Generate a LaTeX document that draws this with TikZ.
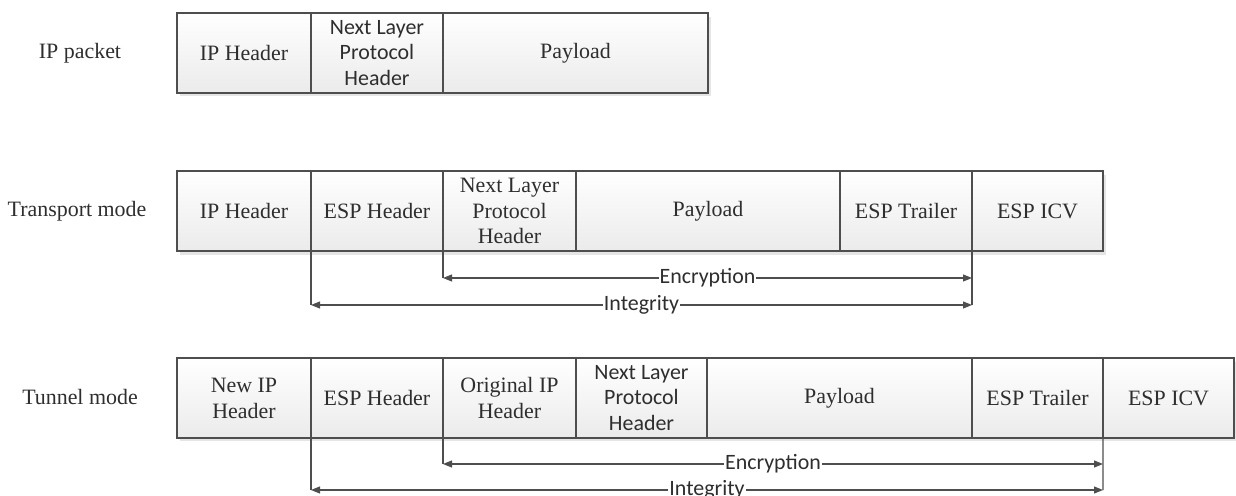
\documentclass[tikz,border=0pt]{standalone}
\usepackage{fontspec}
\setmainfont{Liberation Serif}
\newfontfamily\calfont{Carlito}
\usetikzlibrary{arrows.meta}
\definecolor{edge}{HTML}{4E4E4E}
\definecolor{ink}{HTML}{2E2E2E}
\definecolor{cellbot}{HTML}{EBEBEB}
\tikzset{
  cell/.style={draw=edge, line width=1.3bp, top color=white, bottom color=cellbot,
    inner sep=0pt, outer sep=0pt, align=center, text=ink,
    font=\fontsize{22}{26}\selectfont, minimum height=80bp},
  calcell/.style={cell, font=\calfont\fontsize{22}{26}\selectfont},
  rowlabel/.style={text=ink, font=\fontsize{22}{26}\selectfont},
  conn/.style={draw=edge, line width=1.1bp},
  span/.style={conn, {Triangle[length=9bp,width=7bp]}-{Triangle[length=9bp,width=7bp]}},
  spanlabel/.style={fill=white, inner sep=1bp, text=ink, font=\calfont\fontsize{22}{24}\selectfont},
  shadowbox/.style={fill=black!10, draw=none},
}
\newcommand\mkcell[6][cell]{%
  \node[#1, minimum width={(#4-#3)*1bp}] (#2) at ({(#3+#4)/2},{#5+40}) {#6};}
\begin{document}
\begin{tikzpicture}[x=1bp,y=-1bp]
\useasboundingbox (0,0) rectangle (1236,496);
% shadows
\fill[shadowbox] (180,17) rectangle (711,96);
\fill[shadowbox] (180,175) rectangle (1106,255);
\fill[shadowbox] (180,362) rectangle (1237,441);
% IP packet
\node[rowlabel] (lp) at (80,53) {IP packet};
\mkcell{p1}{177}{311}{13}{IP Header}
\mkcell[calcell]{p2}{311}{443}{13}{Next Layer\\Protocol\\Header}
\mkcell{p3}{443}{708}{13}{Payload}
% Transport mode
\node[rowlabel] (lt) at (77,211) {Transport mode};
\mkcell{t1}{177}{311}{171}{IP Header}
\mkcell{t2}{311}{443}{171}{ESP Header}
\mkcell{t3}{443}{576}{171}{Next Layer\\Protocol\\Header}
\mkcell{t4}{576}{840}{171}{Payload}
\mkcell{t5}{840}{972}{171}{ESP Trailer}
\mkcell{t6}{972}{1103}{171}{ESP ICV}
\coordinate (tEL) at (443,278);
\coordinate (tER) at (972,278);
\coordinate (tIL) at (311,305);
\coordinate (tIR) at (972,305);
\draw[conn] (t3.south west) -- (tEL);
\draw[conn] (t2.south west) -- (tIL);
\draw[conn] (t5.south east) -- (tIR);
\draw[span] (tEL) -- node[spanlabel] (tenc) {Encryption} (tER);
\draw[span] (tIL) -- node[spanlabel] (tint) {Integrity} (tIR);
% Tunnel mode
\node[rowlabel] (lu) at (80,397) {Tunnel mode};
\mkcell{u1}{177}{311}{358}{New IP\\Header}
\mkcell{u2}{311}{443}{358}{ESP Header}
\mkcell{u3}{443}{576}{358}{Original IP\\Header}
\mkcell[calcell]{u4}{576}{707}{358}{Next Layer\\Protocol\\Header}
\mkcell{u5}{707}{972}{358}{Payload}
\mkcell{u6}{972}{1103}{358}{ESP Trailer}
\mkcell{u7}{1103}{1234}{358}{ESP ICV}
\coordinate (uEL) at (443,464);
\coordinate (uER) at (1103,464);
\coordinate (uIL) at (311,490);
\coordinate (uIR) at (1103,490);
\draw[conn] (u3.south west) -- (uEL);
\draw[conn] (u2.south west) -- (uIL);
\draw[conn] (u6.south east) -- (uIR);
\draw[span] (uEL) -- node[spanlabel] (uenc) {Encryption} (uER);
\draw[span] (uIL) -- node[spanlabel] (uint) {Integrity} (uIR);
\end{tikzpicture}
\end{document}
